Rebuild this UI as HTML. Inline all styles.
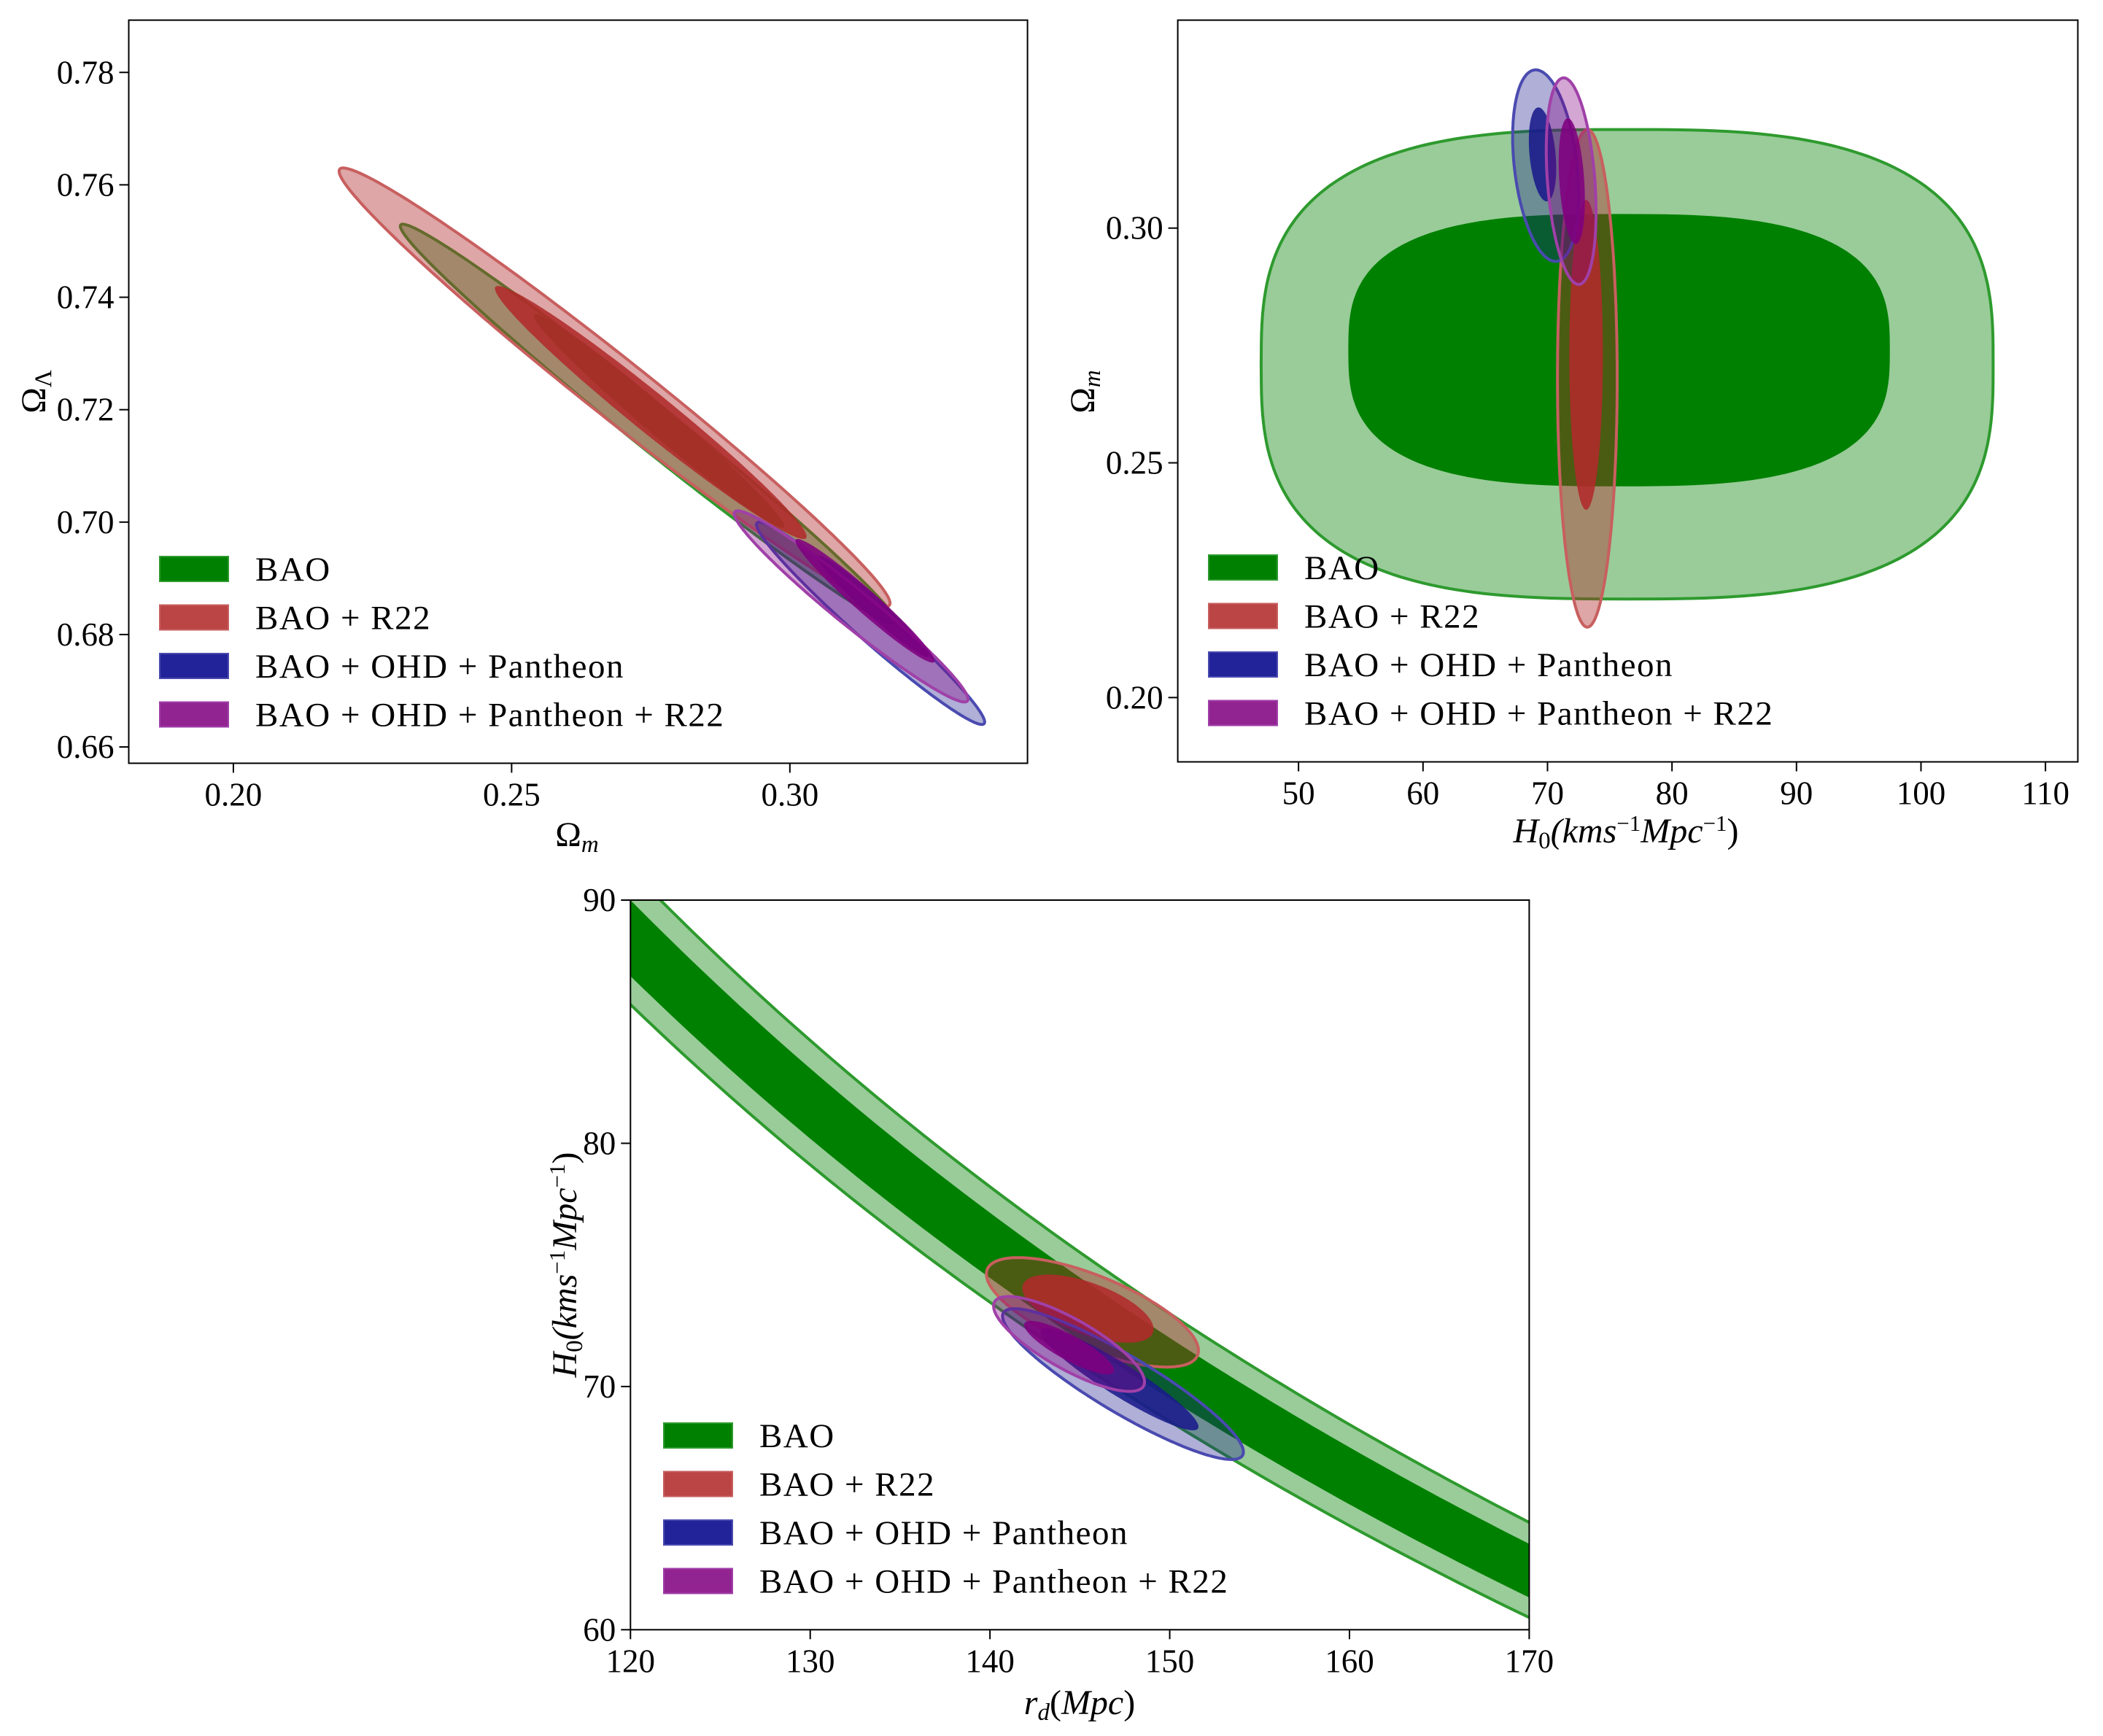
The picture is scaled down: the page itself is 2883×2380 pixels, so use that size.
<!DOCTYPE html>
<html><head><meta charset="utf-8"><style>
html,body{margin:0;padding:0;background:#fff}
svg{display:block}
text{font-family:"Liberation Serif","DejaVu Serif",serif;fill:#000}
</style></head><body>
<svg id="fig" width="2883" height="2380" viewBox="0 0 2883 2380" xmlns="http://www.w3.org/2000/svg">
<rect width="2883" height="2380" fill="#fff"/>
</svg>
<script>
// ---------- data ----------
const seriesNames = ["BAO","BAO + R22","BAO + OHD + Pantheon","BAO + OHD + Pantheon + R22"];
const seriesFill = ["#008000","#b02a2a","#1a1a8c","#800080"];
const seriesEdge = ["#2e9a2e","#c85f5f","#4a4ab0","#a040a8"];
const legendFill = ["#008000","#bb4444","#222299","#922492"];
// panel 1: Omega_m vs Omega_Lambda
const p1Series = [0,0,1,1,2,2,3,3];
const p1Level  = [2,1,2,1,2,1,2,1];
const p1Cx  = [0.2745,0.2765,0.2685,0.275,0.3145,0.315,0.311,0.3135];
const p1Cy  = [0.7175,0.718,0.724,0.7195,0.682,0.685,0.685,0.686];
const p1Sx  = [0.0445,0.0225,0.0495,0.028,0.0205,0.010,0.021,0.0125];
const p1Sy  = [0.0355,0.019,0.039,0.0225,0.018,0.009,0.017,0.011];
const p1Rho = [-0.99,-0.985,-0.985,-0.98,-0.975,-0.97,-0.97,-0.97];
const p1Pow = [2,2,2,2,2,2,2,2];
const p1XTicks = [0.20,0.25,0.30];
const p1XTickLabels = ["0.20","0.25","0.30"];
const p1YTicks = [0.66,0.68,0.70,0.72,0.74,0.76,0.78];
const p1YTickLabels = ["0.66","0.68","0.70","0.72","0.74","0.76","0.78"];
// panel 2: H0 vs Omega_m
const p2Series = [0,0,1,1,2,2,3,3];
const p2Level  = [2,1,2,1,2,1,2,1];
const p2Cx  = [76.4,75.75,73.2,73.1,69.85,69.6,71.9,71.95];
const p2Cy  = [0.271,0.274,0.268,0.273,0.3133,0.3157,0.310,0.310];
const p2Sx  = [29.4,21.75,2.4,1.35,2.65,1.1,2.0,1.05];
const p2Sy  = [0.050,0.029,0.053,0.033,0.0204,0.010,0.022,0.0134];
const p2Rho = [0,0,0,0,-0.3,-0.3,-0.3,-0.3];
const p2Pow = [2.9,2.9,2,2,2,2,2,2];
const p2XTicks = [50,60,70,80,90,100,110];
const p2XTickLabels = ["50","60","70","80","90","100","110"];
const p2YTicks = [0.20,0.25,0.30];
const p2YTickLabels = ["0.20","0.25","0.30"];
// panel 3: r_d vs H0
const p3BandC = [10285,10425,10800,10950]; // H0*rd for outer-low, inner-low, inner-high, outer-high
const p3Series = [1,1,2,2,3,3];
const p3Level  = [2,1,2,1,2,1];
const p3Cx  = [145.7,145.45,147.4,147.2,144.4,144.4];
const p3Cy  = [73.05,73.2,70.1,70.3,71.75,71.6];
const p3Sx  = [5.9,3.65,6.7,4.4,4.2,2.5];
const p3Sy  = [2.25,1.4,3.1,2.1,1.95,1.1];
const p3Rho = [-0.7,-0.6,-0.9,-0.93,-0.8,-0.85];
const p3Pow = [2,2,2,2,2,2];
const p3XTicks = [120,130,140,150,160,170];
const p3XTickLabels = ["120","130","140","150","160","170"];
const p3YTicks = [60,70,80,90];
const p3YTickLabels = ["60","70","80","90"];

// ---------- rendering ----------
const NS = "http://www.w3.org/2000/svg";
const svg = document.getElementById("fig");
function el(tag, attrs, parent){const e=document.createElementNS(NS,tag);for(const k in attrs)e.setAttribute(k,attrs[k]);(parent||svg).appendChild(e);return e;}

function makeAxis(box, xd, yd){
  return {
    x: v => box.l + (v - xd[0])/(xd[1]-xd[0])*(box.r-box.l),
    y: v => box.b - (v - yd[0])/(yd[1]-yd[0])*(box.b-box.t)
  };
}
function contourPath(ax, cx, cy, sx, sy, rho, pw){
  const s = Math.sqrt(1-rho*rho); let d="";
  for(let i=0;i<=240;i++){
    const t=i/240*2*Math.PI;
    let c=Math.cos(t), sn=Math.sin(t);
    if(pw!==2){c=Math.sign(c)*Math.pow(Math.abs(c),2/pw); sn=Math.sign(sn)*Math.pow(Math.abs(sn),2/pw);}
    const X=cx+sx*c, Y=cy+sy*(rho*c+s*sn);
    d+=(i?"L":"M")+ax.x(X).toFixed(1)+" "+ax.y(Y).toFixed(1);
  }
  return d+"Z";
}
function drawContours(g, ax, ser, lev, cx, cy, sx, sy, rho, pw){
  for(let i=0;i<ser.length;i++){
    const k=ser[i], outer=lev[i]===2;
    const op = outer ? (k===0?0.4:(k===1?0.42:0.35)) : (k===0?1:0.88);
    const p=el("path",{d:contourPath(ax,cx[i],cy[i],sx[i],sy[i],rho[i],pw[i]),
      fill:seriesFill[k],"fill-opacity":op,
      stroke:outer?seriesEdge[k]:"none","stroke-width":outer?4:0},g);
    
    
  }
}
function drawFrame(id, box, ax, xt, xtl, yt, ytl, xlabel, ylabel, legendPos){
  const g=el("g",{});
  
  
  el("rect",{x:box.l,y:box.t,width:box.r-box.l,height:box.b-box.t,fill:"none",stroke:"#000","stroke-width":2},g);
  xt.forEach((v,i)=>{const X=ax.x(v);
    el("line",{x1:X,y1:box.b,x2:X,y2:box.b+13,stroke:"#000","stroke-width":2},g);
    const t=el("text",{x:X,y:box.b+58,"text-anchor":"middle","font-size":45},g);t.textContent=xtl[i];
    
    
  });
  yt.forEach((v,i)=>{const Y=ax.y(v);
    el("line",{x1:box.l-13,y1:Y,x2:box.l,y2:Y,stroke:"#000","stroke-width":2},g);
    const t=el("text",{x:box.l-20,y:Y+15,"text-anchor":"end","font-size":45},g);t.textContent=ytl[i];
    
    
  });
  const xl=el("text",{x:xlabel.x,y:xlabel.y,"text-anchor":"middle","font-size":48},g);xl.innerHTML=xlabel.html;
  
  
  const yl=el("text",{x:0,y:0,"text-anchor":"middle","font-size":48,transform:`translate(${ylabel.x},${ylabel.y}) rotate(-90)`},g);yl.innerHTML=ylabel.html;
  
  
  const lg=el("g",{},g);
  
  
  seriesNames.forEach((n,i)=>{const cy=legendPos.y+i*66.5;
    const r=el("rect",{x:legendPos.x,y:cy-17,width:94,height:34,fill:legendFill[i],stroke:seriesEdge[i],"stroke-width":2},lg);
    
    
    const t=el("text",{x:legendPos.x+131,y:cy+16,"font-size":47,"letter-spacing":1.5},lg);t.textContent=n;
    
    
  });
}
function clipGroup(id, box){
  const cp=el("clipPath",{id:id});el("rect",{x:box.l,y:box.t,width:box.r-box.l,height:box.b-box.t},cp);
  const g=el("g",{"clip-path":`url(#${id})`});
  
  
  return g;
}

// Panel 1
const b1={l:176.5,r:1408.6,t:27.6,b:1046.4};
const a1=makeAxis(b1,[0.1812,0.3427],[0.6571,0.7893]);
drawContours(clipGroup("clip1",b1),a1,p1Series,p1Level,p1Cx,p1Cy,p1Sx,p1Sy,p1Rho,p1Pow);
drawFrame("omega-panel",b1,a1,p1XTicks,p1XTickLabels,p1YTicks,p1YTickLabels,
  {x:791,y:1160,html:'Ω<tspan font-style="italic" font-size="33" dy="8">m</tspan>'},
  {x:62,y:537,html:'Ω<tspan font-size="33" dy="8">Λ</tspan>'},{x:219,y:780});

// Panel 2
const b2={l:1614.6,r:2848.5,t:27.6,b:1044.5};
const a2=makeAxis(b2,[40.3,112.6],[0.1863,0.3443]);
drawContours(clipGroup("clip2",b2),a2,p2Series,p2Level,p2Cx,p2Cy,p2Sx,p2Sy,p2Rho,p2Pow);
drawFrame("hubble-omega-panel",b2,a2,p2XTicks,p2XTickLabels,p2YTicks,p2YTickLabels,
  {x:2229,y:1155,html:'<tspan font-style="italic">H</tspan><tspan font-size="33" dy="8">0</tspan><tspan dy="-8" font-style="italic">(kms</tspan><tspan font-size="31" dy="-16">−1</tspan><tspan dy="16" font-style="italic">Mpc</tspan><tspan font-size="31" dy="-16">−1</tspan><tspan dy="16">)</tspan>'},
  {x:1500,y:537,html:'Ω<tspan font-style="italic" font-size="33" dy="8">m</tspan>'},{x:1657,y:778});

// Panel 3
const b3={l:864.3,r:2096.4,t:1234,b:2234.3};
const a3=makeAxis(b3,[120,170],[60,90]);
const g3=clipGroup("clip3",b3);
function bandPath(cLow,cHigh){let d="";const n=100;
  for(let i=0;i<=n;i++){const r=118+i*54/n;d+=(i?"L":"M")+a3.x(r).toFixed(1)+" "+a3.y(cHigh/r).toFixed(1);}
  for(let i=n;i>=0;i--){const r=118+i*54/n;d+="L"+a3.x(r).toFixed(1)+" "+a3.y(cLow/r).toFixed(1);}
  return d+"Z";}
const bo=el("path",{d:bandPath(p3BandC[0],p3BandC[3]),fill:"#008000","fill-opacity":0.4,stroke:seriesEdge[0],"stroke-width":4},g3);


const bi=el("path",{d:bandPath(p3BandC[1],p3BandC[2]),fill:"#008000"},g3);


drawContours(g3,a3,p3Series,p3Level,p3Cx,p3Cy,p3Sx,p3Sy,p3Rho,p3Pow);
drawFrame("rd-hubble-panel",b3,a3,p3XTicks,p3XTickLabels,p3YTicks,p3YTickLabels,
  {x:1480,y:2350,html:'<tspan font-style="italic">r</tspan><tspan font-style="italic" font-size="33" dy="8">d</tspan><tspan dy="-8">(</tspan><tspan font-style="italic">Mpc</tspan>)'},
  {x:790,y:1734,html:'<tspan font-style="italic">H</tspan><tspan font-size="33" dy="8">0</tspan><tspan dy="-8" font-style="italic">(kms</tspan><tspan font-size="31" dy="-16">−1</tspan><tspan dy="16" font-style="italic">Mpc</tspan><tspan font-size="31" dy="-16">−1</tspan><tspan dy="16">)</tspan>'},{x:910,y:1968});
</script>
</body></html>
